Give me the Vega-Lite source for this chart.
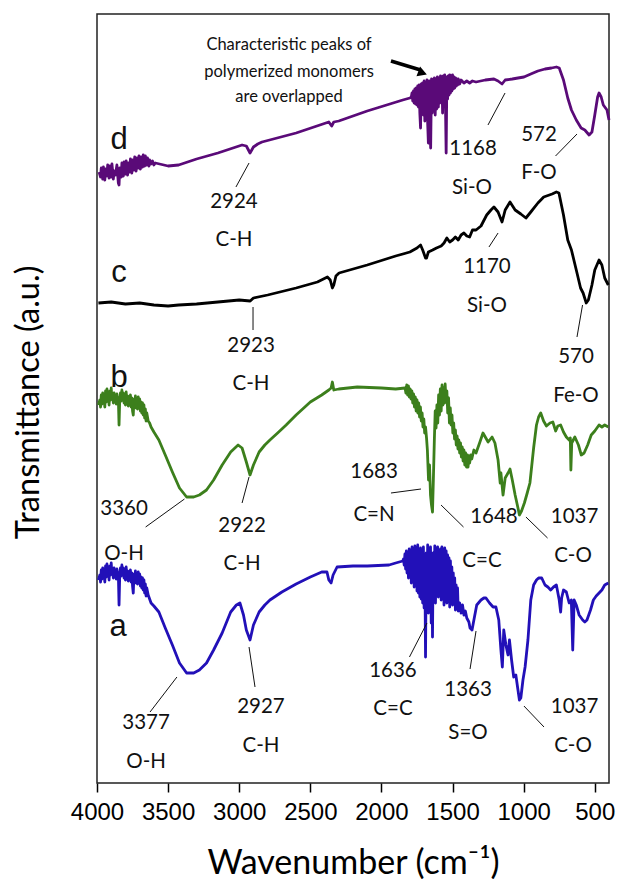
{
  "$schema": "https://vega.github.io/schema/vega-lite/v6.json",
  "width": 512,
  "height": 769,
  "autosize": "none",
  "padding": {"left": 97, "top": 14, "right": 10, "bottom": 96},
  "background": "white",
  "config": {
    "view": {"stroke": "#222222", "strokeWidth": 1.5},
    "font": "Lato"
  },
  "datasets": {
    "spectra": [
      {"s":"d","wn":3985,"t":611},{"s":"d","wn":3975,"t":606},{"s":"d","wn":3970,"t":615},{"s":"d","wn":3960,"t":604},{"s":"d","wn":3955,"t":616},{"s":"d","wn":3945,"t":603},{"s":"d","wn":3940,"t":614},{"s":"d","wn":3930,"t":607},{"s":"d","wn":3925,"t":618},{"s":"d","wn":3915,"t":605},{"s":"d","wn":3910,"t":617},{"s":"d","wn":3900,"t":606},{"s":"d","wn":3895,"t":619},{"s":"d","wn":3885,"t":604},{"s":"d","wn":3880,"t":612},{"s":"d","wn":3870,"t":608},{"s":"d","wn":3860,"t":618},{"s":"d","wn":3850,"t":600},{"s":"d","wn":3845,"t":598},{"s":"d","wn":3840,"t":615},{"s":"d","wn":3830,"t":606},{"s":"d","wn":3825,"t":620},{"s":"d","wn":3815,"t":607},{"s":"d","wn":3810,"t":621},{"s":"d","wn":3800,"t":609},{"s":"d","wn":3795,"t":622},{"s":"d","wn":3785,"t":608},{"s":"d","wn":3780,"t":620},{"s":"d","wn":3770,"t":611},{"s":"d","wn":3765,"t":624},{"s":"d","wn":3755,"t":610},{"s":"d","wn":3750,"t":623},{"s":"d","wn":3740,"t":613},{"s":"d","wn":3735,"t":626},{"s":"d","wn":3725,"t":612},{"s":"d","wn":3720,"t":625},{"s":"d","wn":3710,"t":615},{"s":"d","wn":3705,"t":627},{"s":"d","wn":3695,"t":614},{"s":"d","wn":3690,"t":626},{"s":"d","wn":3680,"t":616},{"s":"d","wn":3675,"t":628},{"s":"d","wn":3665,"t":617},{"s":"d","wn":3660,"t":627},{"s":"d","wn":3650,"t":618},{"s":"d","wn":3645,"t":625},{"s":"d","wn":3635,"t":617},{"s":"d","wn":3630,"t":623},{"s":"d","wn":3620,"t":619},{"s":"d","wn":3610,"t":622},{"s":"d","wn":3600,"t":618},{"s":"d","wn":3590,"t":620},{"s":"d","wn":3560,"t":619},{"s":"d","wn":3500,"t":617},{"s":"d","wn":3426,"t":618},{"s":"d","wn":3300,"t":624},{"s":"d","wn":3150,"t":630},{"s":"d","wn":2980,"t":638},{"s":"d","wn":2950,"t":637},{"s":"d","wn":2924,"t":630},{"s":"d","wn":2900,"t":636},{"s":"d","wn":2870,"t":639},{"s":"d","wn":2840,"t":641},{"s":"d","wn":2600,"t":650},{"s":"d","wn":2370,"t":661},{"s":"d","wn":2350,"t":657},{"s":"d","wn":2335,"t":661},{"s":"d","wn":2300,"t":662},{"s":"d","wn":2100,"t":672},{"s":"d","wn":1918,"t":680},{"s":"d","wn":1850,"t":683},{"s":"d","wn":1800,"t":685},
      {"s":"d","wn":1790,"t":686},{"s":"d","wn":1785,"t":690},{"s":"d","wn":1780,"t":682},{"s":"d","wn":1775,"t":692},{"s":"d","wn":1770,"t":680},{"s":"d","wn":1765,"t":694},{"s":"d","wn":1760,"t":679},{"s":"d","wn":1755,"t":695},{"s":"d","wn":1750,"t":678},{"s":"d","wn":1745,"t":697},{"s":"d","wn":1740,"t":676},{"s":"d","wn":1735,"t":698},{"s":"d","wn":1730,"t":670},{"s":"d","wn":1725,"t":655},{"s":"d","wn":1720,"t":699},{"s":"d","wn":1715,"t":672},{"s":"d","wn":1710,"t":700},{"s":"d","wn":1705,"t":668},{"s":"d","wn":1700,"t":702},{"s":"d","wn":1695,"t":662},{"s":"d","wn":1690,"t":700},{"s":"d","wn":1685,"t":666},{"s":"d","wn":1680,"t":703},{"s":"d","wn":1675,"t":660},{"s":"d","wn":1670,"t":640},{"s":"d","wn":1665,"t":702},{"s":"d","wn":1660,"t":665},{"s":"d","wn":1654,"t":635},{"s":"d","wn":1648,"t":704},{"s":"d","wn":1643,"t":670},{"s":"d","wn":1638,"t":703},{"s":"d","wn":1633,"t":672},{"s":"d","wn":1628,"t":705},{"s":"d","wn":1622,"t":668},{"s":"d","wn":1617,"t":704},{"s":"d","wn":1612,"t":674},{"s":"d","wn":1607,"t":706},{"s":"d","wn":1600,"t":676},{"s":"d","wn":1595,"t":705},{"s":"d","wn":1590,"t":680},{"s":"d","wn":1585,"t":707},{"s":"d","wn":1580,"t":683},{"s":"d","wn":1575,"t":706},{"s":"d","wn":1570,"t":670},{"s":"d","wn":1565,"t":707},{"s":"d","wn":1560,"t":686},{"s":"d","wn":1555,"t":708},{"s":"d","wn":1550,"t":680},{"s":"d","wn":1545,"t":630},{"s":"d","wn":1540,"t":706},{"s":"d","wn":1535,"t":684},{"s":"d","wn":1530,"t":707},{"s":"d","wn":1525,"t":688},{"s":"d","wn":1520,"t":708},{"s":"d","wn":1515,"t":690},{"s":"d","wn":1510,"t":707},{"s":"d","wn":1505,"t":692},{"s":"d","wn":1500,"t":708},{"s":"d","wn":1495,"t":694},{"s":"d","wn":1490,"t":706},{"s":"d","wn":1485,"t":695},{"s":"d","wn":1480,"t":705},{"s":"d","wn":1475,"t":697},{"s":"d","wn":1470,"t":704},{"s":"d","wn":1465,"t":698},{"s":"d","wn":1460,"t":704},{"s":"d","wn":1450,"t":699},{"s":"d","wn":1440,"t":703},{"s":"d","wn":1420,"t":700},{"s":"d","wn":1400,"t":702},{"s":"d","wn":1380,"t":700},{"s":"d","wn":1360,"t":702},{"s":"d","wn":1335,"t":701},
      {"s":"d","wn":1270,"t":703},{"s":"d","wn":1209,"t":704},{"s":"d","wn":1180,"t":702},{"s":"d","wn":1152,"t":699},{"s":"d","wn":1130,"t":703},{"s":"d","wn":1080,"t":704},{"s":"d","wn":1040,"t":705},{"s":"d","wn":998,"t":706},{"s":"d","wn":950,"t":709},{"s":"d","wn":900,"t":712},{"s":"d","wn":850,"t":714},{"s":"d","wn":804,"t":715},{"s":"d","wn":770,"t":716},{"s":"d","wn":750,"t":715},{"s":"d","wn":720,"t":703},{"s":"d","wn":690,"t":685},{"s":"d","wn":664,"t":673},{"s":"d","wn":630,"t":663},{"s":"d","wn":596,"t":655},{"s":"d","wn":570,"t":653},{"s":"d","wn":540,"t":648},{"s":"d","wn":520,"t":651},{"s":"d","wn":500,"t":668},{"s":"d","wn":480,"t":686},{"s":"d","wn":470,"t":690},{"s":"d","wn":455,"t":686},{"s":"d","wn":440,"t":678},{"s":"d","wn":414,"t":673},{"s":"d","wn":400,"t":663},

      {"s":"c","wn":3990,"t":480},{"s":"c","wn":3900,"t":481},{"s":"c","wn":3800,"t":479},{"s":"c","wn":3700,"t":480},{"s":"c","wn":3600,"t":478},{"s":"c","wn":3500,"t":477},{"s":"c","wn":3426,"t":478},{"s":"c","wn":3300,"t":479},{"s":"c","wn":3150,"t":481},{"s":"c","wn":3000,"t":483},{"s":"c","wn":2923,"t":482},{"s":"c","wn":2900,"t":485},{"s":"c","wn":2800,"t":488},{"s":"c","wn":2600,"t":495},{"s":"c","wn":2450,"t":501},{"s":"c","wn":2380,"t":506},{"s":"c","wn":2360,"t":503},{"s":"c","wn":2345,"t":495},{"s":"c","wn":2335,"t":498},{"s":"c","wn":2320,"t":507},{"s":"c","wn":2298,"t":510},{"s":"c","wn":2100,"t":518},{"s":"c","wn":1900,"t":527},{"s":"c","wn":1800,"t":531},{"s":"c","wn":1750,"t":535},{"s":"c","wn":1725,"t":538},{"s":"c","wn":1710,"t":533},{"s":"c","wn":1690,"t":525},{"s":"c","wn":1683,"t":525},{"s":"c","wn":1670,"t":531},{"s":"c","wn":1640,"t":533},{"s":"c","wn":1613,"t":535},{"s":"c","wn":1580,"t":537},{"s":"c","wn":1560,"t":540},{"s":"c","wn":1540,"t":545},{"s":"c","wn":1520,"t":541},{"s":"c","wn":1500,"t":543},{"s":"c","wn":1480,"t":546},{"s":"c","wn":1460,"t":543},{"s":"c","wn":1440,"t":548},{"s":"c","wn":1420,"t":550},{"s":"c","wn":1400,"t":547},{"s":"c","wn":1380,"t":546},{"s":"c","wn":1360,"t":553},{"s":"c","wn":1335,"t":553},{"s":"c","wn":1300,"t":557},{"s":"c","wn":1260,"t":568},{"s":"c","wn":1230,"t":573},{"s":"c","wn":1209,"t":576},{"s":"c","wn":1180,"t":571},{"s":"c","wn":1152,"t":561},{"s":"c","wn":1130,"t":573},{"s":"c","wn":1096,"t":581},{"s":"c","wn":1060,"t":573},{"s":"c","wn":1020,"t":569},{"s":"c","wn":984,"t":565},{"s":"c","wn":950,"t":571},{"s":"c","wn":900,"t":580},{"s":"c","wn":859,"t":586},{"s":"c","wn":800,"t":589},{"s":"c","wn":770,"t":591},{"s":"c","wn":752,"t":590},{"s":"c","wn":720,"t":568},{"s":"c","wn":690,"t":543},{"s":"c","wn":664,"t":533},{"s":"c","wn":630,"t":513},{"s":"c","wn":600,"t":495},{"s":"c","wn":582,"t":490},{"s":"c","wn":560,"t":480},{"s":"c","wn":545,"t":483},{"s":"c","wn":520,"t":498},{"s":"c","wn":500,"t":513},{"s":"c","wn":470,"t":523},{"s":"c","wn":450,"t":518},{"s":"c","wn":430,"t":505},{"s":"c","wn":405,"t":498},

      {"s":"b","wn":3990,"t":378},{"s":"b","wn":3980,"t":383},{"s":"b","wn":3975,"t":376},{"s":"b","wn":3970,"t":388},{"s":"b","wn":3965,"t":379},{"s":"b","wn":3960,"t":390},{"s":"b","wn":3955,"t":380},{"s":"b","wn":3950,"t":386},{"s":"b","wn":3945,"t":376},{"s":"b","wn":3940,"t":392},{"s":"b","wn":3935,"t":381},{"s":"b","wn":3930,"t":394},{"s":"b","wn":3925,"t":383},{"s":"b","wn":3920,"t":389},{"s":"b","wn":3915,"t":378},{"s":"b","wn":3910,"t":392},{"s":"b","wn":3905,"t":383},{"s":"b","wn":3900,"t":395},{"s":"b","wn":3895,"t":384},{"s":"b","wn":3890,"t":388},{"s":"b","wn":3885,"t":380},{"s":"b","wn":3880,"t":390},{"s":"b","wn":3875,"t":383},{"s":"b","wn":3870,"t":387},{"s":"b","wn":3865,"t":379},{"s":"b","wn":3860,"t":389},{"s":"b","wn":3855,"t":381},{"s":"b","wn":3850,"t":385},{"s":"b","wn":3845,"t":358},{"s":"b","wn":3840,"t":384},{"s":"b","wn":3835,"t":390},{"s":"b","wn":3830,"t":382},{"s":"b","wn":3825,"t":393},{"s":"b","wn":3820,"t":383},{"s":"b","wn":3815,"t":390},{"s":"b","wn":3810,"t":380},{"s":"b","wn":3805,"t":388},{"s":"b","wn":3800,"t":378},{"s":"b","wn":3795,"t":391},{"s":"b","wn":3790,"t":382},{"s":"b","wn":3785,"t":387},{"s":"b","wn":3780,"t":377},{"s":"b","wn":3775,"t":386},{"s":"b","wn":3770,"t":380},{"s":"b","wn":3765,"t":388},{"s":"b","wn":3760,"t":376},{"s":"b","wn":3755,"t":385},{"s":"b","wn":3750,"t":372},{"s":"b","wn":3745,"t":368},{"s":"b","wn":3740,"t":384},{"s":"b","wn":3735,"t":377},{"s":"b","wn":3730,"t":387},{"s":"b","wn":3725,"t":375},{"s":"b","wn":3720,"t":383},{"s":"b","wn":3715,"t":374},{"s":"b","wn":3710,"t":386},{"s":"b","wn":3705,"t":376},{"s":"b","wn":3700,"t":384},{"s":"b","wn":3695,"t":372},{"s":"b","wn":3690,"t":381},{"s":"b","wn":3685,"t":370},{"s":"b","wn":3680,"t":380},{"s":"b","wn":3675,"t":368},{"s":"b","wn":3670,"t":378},{"s":"b","wn":3665,"t":365},{"s":"b","wn":3660,"t":374},{"s":"b","wn":3655,"t":362},{"s":"b","wn":3650,"t":370},{"s":"b","wn":3640,"t":362},{"s":"b","wn":3630,"t":360},{"s":"b","wn":3620,"t":356},{"s":"b","wn":3600,"t":351},{"s":"b","wn":3565,"t":343},{"s":"b","wn":3520,"t":328},{"s":"b","wn":3470,"t":311},{"s":"b","wn":3420,"t":295},{"s":"b","wn":3370,"t":286},{"s":"b","wn":3320,"t":286},{"s":"b","wn":3280,"t":288},{"s":"b","wn":3230,"t":293},{"s":"b","wn":3180,"t":303},{"s":"b","wn":3120,"t":318},{"s":"b","wn":3060,"t":331},{"s":"b","wn":3008,"t":338},{"s":"b","wn":2980,"t":335},{"s":"b","wn":2950,"t":321},{"s":"b","wn":2924,"t":308},{"s":"b","wn":2900,"t":318},{"s":"b","wn":2860,"t":331},{"s":"b","wn":2820,"t":338},{"s":"b","wn":2784,"t":343},{"s":"b","wn":2730,"t":350},{"s":"b","wn":2670,"t":358},{"s":"b","wn":2600,"t":368},{"s":"b","wn":2500,"t":381},{"s":"b","wn":2420,"t":388},{"s":"b","wn":2370,"t":393},{"s":"b","wn":2354,"t":395},{"s":"b","wn":2345,"t":401},{"s":"b","wn":2335,"t":393},{"s":"b","wn":2300,"t":394},{"s":"b","wn":2170,"t":396},{"s":"b","wn":2000,"t":395},{"s":"b","wn":1900,"t":394},
      {"s":"b","wn":1834,"t":395},{"s":"b","wn":1828,"t":390},{"s":"b","wn":1822,"t":398},{"s":"b","wn":1816,"t":388},{"s":"b","wn":1810,"t":397},{"s":"b","wn":1804,"t":386},{"s":"b","wn":1798,"t":394},{"s":"b","wn":1792,"t":384},{"s":"b","wn":1786,"t":392},{"s":"b","wn":1780,"t":380},{"s":"b","wn":1774,"t":389},{"s":"b","wn":1768,"t":376},{"s":"b","wn":1762,"t":386},{"s":"b","wn":1756,"t":372},{"s":"b","wn":1750,"t":383},{"s":"b","wn":1744,"t":370},{"s":"b","wn":1738,"t":380},{"s":"b","wn":1732,"t":366},{"s":"b","wn":1726,"t":376},{"s":"b","wn":1720,"t":362},{"s":"b","wn":1714,"t":370},{"s":"b","wn":1708,"t":356},{"s":"b","wn":1702,"t":364},{"s":"b","wn":1696,"t":350},{"s":"b","wn":1690,"t":356},{"s":"b","wn":1683,"t":345},{"s":"b","wn":1677,"t":333},{"s":"b","wn":1669,"t":303},{"s":"b","wn":1662,"t":318},{"s":"b","wn":1655,"t":288},{"s":"b","wn":1648,"t":278},{"s":"b","wn":1641,"t":271},{"s":"b","wn":1635,"t":303},{"s":"b","wn":1628,"t":343},{"s":"b","wn":1622,"t":372},{"s":"b","wn":1616,"t":355},{"s":"b","wn":1610,"t":378},{"s":"b","wn":1604,"t":360},{"s":"b","wn":1598,"t":388},{"s":"b","wn":1592,"t":368},{"s":"b","wn":1586,"t":394},{"s":"b","wn":1580,"t":372},{"s":"b","wn":1574,"t":398},{"s":"b","wn":1568,"t":378},{"s":"b","wn":1562,"t":395},{"s":"b","wn":1556,"t":380},{"s":"b","wn":1552,"t":399},{"s":"b","wn":1546,"t":382},{"s":"b","wn":1540,"t":392},{"s":"b","wn":1534,"t":370},{"s":"b","wn":1528,"t":385},{"s":"b","wn":1522,"t":360},{"s":"b","wn":1516,"t":375},{"s":"b","wn":1510,"t":358},{"s":"b","wn":1504,"t":368},{"s":"b","wn":1498,"t":350},{"s":"b","wn":1492,"t":360},{"s":"b","wn":1486,"t":344},{"s":"b","wn":1480,"t":353},{"s":"b","wn":1474,"t":338},{"s":"b","wn":1468,"t":347},{"s":"b","wn":1462,"t":334},{"s":"b","wn":1456,"t":343},{"s":"b","wn":1450,"t":330},{"s":"b","wn":1444,"t":340},{"s":"b","wn":1438,"t":326},{"s":"b","wn":1432,"t":336},{"s":"b","wn":1426,"t":322},{"s":"b","wn":1420,"t":333},{"s":"b","wn":1414,"t":318},{"s":"b","wn":1408,"t":330},{"s":"b","wn":1402,"t":316},{"s":"b","wn":1396,"t":328},{"s":"b","wn":1391,"t":316},{"s":"b","wn":1385,"t":327},{"s":"b","wn":1380,"t":320},{"s":"b","wn":1372,"t":328},{"s":"b","wn":1365,"t":324},{"s":"b","wn":1350,"t":333},{"s":"b","wn":1335,"t":330},{"s":"b","wn":1310,"t":340},{"s":"b","wn":1286,"t":350},{"s":"b","wn":1270,"t":346},{"s":"b","wn":1250,"t":341},{"s":"b","wn":1222,"t":346},{"s":"b","wn":1202,"t":340},{"s":"b","wn":1180,"t":323},{"s":"b","wn":1165,"t":300},{"s":"b","wn":1160,"t":310},{"s":"b","wn":1145,"t":288},{"s":"b","wn":1130,"t":305},{"s":"b","wn":1110,"t":310},{"s":"b","wn":1096,"t":314},{"s":"b","wn":1080,"t":303},{"s":"b","wn":1060,"t":288},{"s":"b","wn":1040,"t":275},{"s":"b","wn":1030,"t":268},{"s":"b","wn":1015,"t":272},{"s":"b","wn":995,"t":280},{"s":"b","wn":975,"t":290},{"s":"b","wn":956,"t":300},{"s":"b","wn":930,"t":335},{"s":"b","wn":910,"t":358},{"s":"b","wn":895,"t":366},{"s":"b","wn":880,"t":370},{"s":"b","wn":860,"t":362},{"s":"b","wn":840,"t":357},{"s":"b","wn":815,"t":360},{"s":"b","wn":795,"t":361},{"s":"b","wn":775,"t":352},{"s":"b","wn":760,"t":357},{"s":"b","wn":740,"t":358},{"s":"b","wn":720,"t":351},{"s":"b","wn":700,"t":346},{"s":"b","wn":680,"t":343},{"s":"b","wn":672,"t":345},{"s":"b","wn":668,"t":313},{"s":"b","wn":662,"t":340},{"s":"b","wn":640,"t":346},{"s":"b","wn":615,"t":338},{"s":"b","wn":595,"t":328},{"s":"b","wn":575,"t":330},{"s":"b","wn":550,"t":338},{"s":"b","wn":525,"t":348},{"s":"b","wn":500,"t":352},{"s":"b","wn":470,"t":358},{"s":"b","wn":450,"t":356},{"s":"b","wn":430,"t":358},{"s":"b","wn":405,"t":356},

      {"s":"a","wn":3990,"t":203},{"s":"a","wn":3980,"t":208},{"s":"a","wn":3975,"t":201},{"s":"a","wn":3970,"t":213},{"s":"a","wn":3965,"t":204},{"s":"a","wn":3960,"t":215},{"s":"a","wn":3955,"t":205},{"s":"a","wn":3950,"t":211},{"s":"a","wn":3945,"t":201},{"s":"a","wn":3940,"t":217},{"s":"a","wn":3935,"t":206},{"s":"a","wn":3930,"t":219},{"s":"a","wn":3925,"t":208},{"s":"a","wn":3920,"t":214},{"s":"a","wn":3915,"t":203},{"s":"a","wn":3910,"t":217},{"s":"a","wn":3905,"t":208},{"s":"a","wn":3900,"t":220},{"s":"a","wn":3895,"t":209},{"s":"a","wn":3890,"t":213},{"s":"a","wn":3885,"t":205},{"s":"a","wn":3880,"t":215},{"s":"a","wn":3875,"t":208},{"s":"a","wn":3870,"t":212},{"s":"a","wn":3865,"t":204},{"s":"a","wn":3860,"t":214},{"s":"a","wn":3855,"t":206},{"s":"a","wn":3850,"t":210},{"s":"a","wn":3845,"t":178},{"s":"a","wn":3840,"t":209},{"s":"a","wn":3835,"t":215},{"s":"a","wn":3830,"t":207},{"s":"a","wn":3825,"t":218},{"s":"a","wn":3820,"t":208},{"s":"a","wn":3815,"t":215},{"s":"a","wn":3810,"t":205},{"s":"a","wn":3805,"t":213},{"s":"a","wn":3800,"t":203},{"s":"a","wn":3795,"t":216},{"s":"a","wn":3790,"t":207},{"s":"a","wn":3785,"t":212},{"s":"a","wn":3780,"t":202},{"s":"a","wn":3775,"t":211},{"s":"a","wn":3770,"t":205},{"s":"a","wn":3765,"t":213},{"s":"a","wn":3760,"t":201},{"s":"a","wn":3755,"t":210},{"s":"a","wn":3750,"t":197},{"s":"a","wn":3745,"t":190},{"s":"a","wn":3740,"t":209},{"s":"a","wn":3735,"t":202},{"s":"a","wn":3730,"t":212},{"s":"a","wn":3725,"t":200},{"s":"a","wn":3720,"t":208},{"s":"a","wn":3715,"t":199},{"s":"a","wn":3710,"t":211},{"s":"a","wn":3705,"t":201},{"s":"a","wn":3700,"t":209},{"s":"a","wn":3695,"t":197},{"s":"a","wn":3690,"t":206},{"s":"a","wn":3685,"t":195},{"s":"a","wn":3680,"t":205},{"s":"a","wn":3675,"t":193},{"s":"a","wn":3670,"t":203},{"s":"a","wn":3665,"t":190},{"s":"a","wn":3660,"t":199},{"s":"a","wn":3655,"t":187},{"s":"a","wn":3650,"t":195},{"s":"a","wn":3640,"t":188},{"s":"a","wn":3630,"t":184},{"s":"a","wn":3620,"t":180},{"s":"a","wn":3600,"t":177},{"s":"a","wn":3565,"t":171},{"s":"a","wn":3520,"t":155},{"s":"a","wn":3470,"t":138},{"s":"a","wn":3420,"t":120},{"s":"a","wn":3370,"t":110},{"s":"a","wn":3320,"t":110},{"s":"a","wn":3280,"t":113},{"s":"a","wn":3230,"t":120},{"s":"a","wn":3180,"t":133},{"s":"a","wn":3120,"t":150},{"s":"a","wn":3060,"t":171},{"s":"a","wn":3020,"t":178},{"s":"a","wn":2995,"t":180},{"s":"a","wn":2970,"t":168},{"s":"a","wn":2950,"t":153},{"s":"a","wn":2924,"t":143},{"s":"a","wn":2900,"t":158},{"s":"a","wn":2860,"t":171},{"s":"a","wn":2820,"t":178},{"s":"a","wn":2784,"t":183},{"s":"a","wn":2700,"t":191},{"s":"a","wn":2600,"t":199},{"s":"a","wn":2500,"t":206},{"s":"a","wn":2420,"t":211},{"s":"a","wn":2383,"t":211},{"s":"a","wn":2370,"t":203},{"s":"a","wn":2354,"t":200},{"s":"a","wn":2340,"t":208},{"s":"a","wn":2312,"t":216},{"s":"a","wn":2200,"t":217},{"s":"a","wn":2100,"t":217},{"s":"a","wn":1947,"t":218},{"s":"a","wn":1900,"t":220},{"s":"a","wn":1850,"t":222},
      {"s":"a","wn":1845,"t":224},{"s":"a","wn":1840,"t":218},{"s":"a","wn":1835,"t":229},{"s":"a","wn":1830,"t":214},{"s":"a","wn":1825,"t":232},{"s":"a","wn":1820,"t":210},{"s":"a","wn":1815,"t":230},{"s":"a","wn":1810,"t":205},{"s":"a","wn":1805,"t":234},{"s":"a","wn":1800,"t":208},{"s":"a","wn":1795,"t":228},{"s":"a","wn":1790,"t":200},{"s":"a","wn":1785,"t":236},{"s":"a","wn":1780,"t":203},{"s":"a","wn":1775,"t":231},{"s":"a","wn":1770,"t":196},{"s":"a","wn":1765,"t":237},{"s":"a","wn":1760,"t":199},{"s":"a","wn":1755,"t":230},{"s":"a","wn":1750,"t":192},{"s":"a","wn":1745,"t":238},{"s":"a","wn":1740,"t":190},{"s":"a","wn":1735,"t":233},{"s":"a","wn":1730,"t":186},{"s":"a","wn":1725,"t":235},{"s":"a","wn":1720,"t":184},{"s":"a","wn":1715,"t":229},{"s":"a","wn":1710,"t":180},{"s":"a","wn":1705,"t":236},{"s":"a","wn":1700,"t":175},{"s":"a","wn":1695,"t":226},{"s":"a","wn":1690,"t":126},{"s":"a","wn":1685,"t":230},{"s":"a","wn":1680,"t":182},{"s":"a","wn":1675,"t":238},{"s":"a","wn":1670,"t":170},{"s":"a","wn":1665,"t":232},{"s":"a","wn":1660,"t":178},{"s":"a","wn":1655,"t":236},{"s":"a","wn":1650,"t":160},{"s":"a","wn":1645,"t":225},{"s":"a","wn":1641,"t":146},{"s":"a","wn":1636,"t":230},{"s":"a","wn":1630,"t":185},{"s":"a","wn":1625,"t":237},{"s":"a","wn":1620,"t":180},{"s":"a","wn":1615,"t":232},{"s":"a","wn":1610,"t":190},{"s":"a","wn":1605,"t":236},{"s":"a","wn":1600,"t":186},{"s":"a","wn":1595,"t":230},{"s":"a","wn":1590,"t":192},{"s":"a","wn":1585,"t":234},{"s":"a","wn":1580,"t":183},{"s":"a","wn":1575,"t":236},{"s":"a","wn":1570,"t":190},{"s":"a","wn":1565,"t":230},{"s":"a","wn":1560,"t":178},{"s":"a","wn":1555,"t":235},{"s":"a","wn":1550,"t":186},{"s":"a","wn":1545,"t":232},{"s":"a","wn":1540,"t":180},{"s":"a","wn":1535,"t":228},{"s":"a","wn":1530,"t":188},{"s":"a","wn":1525,"t":225},{"s":"a","wn":1520,"t":176},{"s":"a","wn":1515,"t":222},{"s":"a","wn":1510,"t":185},{"s":"a","wn":1505,"t":216},{"s":"a","wn":1500,"t":178},{"s":"a","wn":1495,"t":210},{"s":"a","wn":1490,"t":182},{"s":"a","wn":1485,"t":205},{"s":"a","wn":1480,"t":173},{"s":"a","wn":1475,"t":198},{"s":"a","wn":1470,"t":178},{"s":"a","wn":1465,"t":195},{"s":"a","wn":1460,"t":172},{"s":"a","wn":1450,"t":180},{"s":"a","wn":1440,"t":170},{"s":"a","wn":1430,"t":178},{"s":"a","wn":1420,"t":168},{"s":"a","wn":1410,"t":172},{"s":"a","wn":1400,"t":165},{"s":"a","wn":1385,"t":161},{"s":"a","wn":1377,"t":155},{"s":"a","wn":1363,"t":153},{"s":"a","wn":1350,"t":163},{"s":"a","wn":1330,"t":178},{"s":"a","wn":1300,"t":183},{"s":"a","wn":1280,"t":185},{"s":"a","wn":1265,"t":185},{"s":"a","wn":1240,"t":180},{"s":"a","wn":1215,"t":176},{"s":"a","wn":1195,"t":176},{"s":"a","wn":1175,"t":163},{"s":"a","wn":1160,"t":133},{"s":"a","wn":1150,"t":116},{"s":"a","wn":1140,"t":153},{"s":"a","wn":1125,"t":138},{"s":"a","wn":1110,"t":128},{"s":"a","wn":1100,"t":143},{"s":"a","wn":1085,"t":123},{"s":"a","wn":1070,"t":106},{"s":"a","wn":1055,"t":108},{"s":"a","wn":1040,"t":93},{"s":"a","wn":1030,"t":83},{"s":"a","wn":1020,"t":85},{"s":"a","wn":1005,"t":103},{"s":"a","wn":990,"t":116},{"s":"a","wn":970,"t":143},{"s":"a","wn":950,"t":183},{"s":"a","wn":930,"t":198},{"s":"a","wn":910,"t":203},{"s":"a","wn":895,"t":205},{"s":"a","wn":873,"t":205},{"s":"a","wn":850,"t":198},{"s":"a","wn":830,"t":196},{"s":"a","wn":810,"t":193},{"s":"a","wn":790,"t":196},{"s":"a","wn":770,"t":198},{"s":"a","wn":750,"t":183},{"s":"a","wn":740,"t":171},{"s":"a","wn":733,"t":185},{"s":"a","wn":720,"t":193},{"s":"a","wn":700,"t":191},{"s":"a","wn":680,"t":180},{"s":"a","wn":665,"t":183},{"s":"a","wn":655,"t":133},{"s":"a","wn":645,"t":183},{"s":"a","wn":630,"t":178},{"s":"a","wn":610,"t":168},{"s":"a","wn":585,"t":163},{"s":"a","wn":570,"t":161},{"s":"a","wn":555,"t":163},{"s":"a","wn":530,"t":173},{"s":"a","wn":510,"t":183},{"s":"a","wn":490,"t":187},{"s":"a","wn":470,"t":190},{"s":"a","wn":450,"t":193},{"s":"a","wn":430,"t":198},{"s":"a","wn":405,"t":200}
    ],
    "notes": [
      {"wn":2650,"t":738,"label":"Characteristic peaks of"},
      {"wn":2650,"t":711,"label":"polymerized monomers"},
      {"wn":2650,"t":686,"label":"are overlapped"}
    ],
    "letters": [
      {"wn":3845,"t":643,"label":"d"},
      {"wn":3845,"t":510,"label":"c"},
      {"wn":3845,"t":405,"label":"b"},
      {"wn":3852,"t":156,"label":"a"}
    ],
    "peaks": [
      {"wn":3037,"t":581,"label":"2924"},{"wn":3037,"t":543,"label":"C-H"},
      {"wn":1356,"t":634,"label":"1168"},{"wn":1363,"t":595,"label":"Si-O"},
      {"wn":892,"t":648,"label":"572"},{"wn":892,"t":610,"label":"F-O"},
      {"wn":1258,"t":516,"label":"1170"},{"wn":1258,"t":477,"label":"Si-O"},
      {"wn":2917,"t":437,"label":"2923"},{"wn":2917,"t":399,"label":"C-H"},
      {"wn":632,"t":426,"label":"570"},{"wn":632,"t":387,"label":"Fe-O"},
      {"wn":3810,"t":274,"label":"3360"},{"wn":3810,"t":229,"label":"O-H"},
      {"wn":2980,"t":257,"label":"2922"},{"wn":2980,"t":219,"label":"C-H"},
      {"wn":2052,"t":311,"label":"1683"},{"wn":2052,"t":268,"label":"C=N"},
      {"wn":1209,"t":266,"label":"1648"},{"wn":1293,"t":222,"label":"C=C"},
      {"wn":642,"t":266,"label":"1037"},{"wn":653,"t":227,"label":"C-O"},
      {"wn":3655,"t":60,"label":"3377"},{"wn":3655,"t":21,"label":"O-H"},
      {"wn":2847,"t":76,"label":"2927"},{"wn":2847,"t":37,"label":"C-H"},
      {"wn":1919,"t":112,"label":"1636"},{"wn":1919,"t":74,"label":"C=C"},
      {"wn":1391,"t":93,"label":"1363"},{"wn":1391,"t":50,"label":"S=O"},
      {"wn":642,"t":76,"label":"1037"},{"wn":653,"t":37,"label":"C-O"}
    ],
    "leaders": [
      {"wn1":2931,"t1":620,"wn2":3023,"t2":596},
      {"wn1":1131,"t1":690,"wn2":1251,"t2":658},
      {"wn1":625,"t1":649,"wn2":776,"t2":627},
      {"wn1":1180,"t1":550,"wn2":1244,"t2":536},
      {"wn1":2903,"t1":476,"wn2":2903,"t2":453},
      {"wn1":586,"t1":478,"wn2":625,"t2":446},
      {"wn1":3385,"t1":284,"wn2":3658,"t2":256},
      {"wn1":2931,"t1":306,"wn2":2980,"t2":280},
      {"wn1":1933,"t1":290,"wn2":1722,"t2":294},
      {"wn1":1581,"t1":278,"wn2":1423,"t2":256},
      {"wn1":984,"t1":266,"wn2":832,"t2":245},
      {"wn1":3438,"t1":106,"wn2":3627,"t2":71},
      {"wn1":2931,"t1":136,"wn2":2889,"t2":96},
      {"wn1":1680,"t1":160,"wn2":1803,"t2":126},
      {"wn1":1335,"t1":152,"wn2":1377,"t2":114},
      {"wn1":998,"t1":77,"wn2":857,"t2":56}
    ],
    "arrow": [
      {"wn1":1933,"t1":722,"wn2":1725,"t2":713}
    ],
    "arrowhead": [
      {"wn":1711,"t":710}
    ]
  },
  "layer": [
    {
      "data": {"name": "spectra"},
      "mark": {"type": "line", "strokeWidth": 2.8, "strokeJoin": "round"},
      "encoding": {
        "x": {
          "field": "wn", "type": "quantitative",
          "scale": {"domain": [4000, 400], "nice": false, "zero": false},
          "axis": {
            "values": [4000, 3500, 3000, 2500, 2000, 1500, 1000, 500],
            "format": "d",
            "grid": false, "domain": false,
            "tickSize": 9, "tickColor": "#000000", "tickWidth": 1.5,
            "labelFont": "Liberation Sans", "labelFontSize": 24, "labelColor": "#000000",
            "labelPadding": 8, "labelOverlap": false, "labelFlush": false,
            "title": "Wavenumber (cm⁻¹)",
            "titleFont": "Lato", "titleFontSize": 34, "titleFontWeight": "normal", "titleColor": "#000000",
            "titleBaseline": "middle", "titleY": 80
          }
        },
        "y": {
          "field": "t", "type": "quantitative",
          "scale": {"domain": [0, 769], "nice": false, "zero": false},
          "axis": {
            "labels": false, "ticks": false, "domain": false, "grid": false,
            "title": "Transmittance (a.u.)",
            "titleFont": "Lato", "titleFontSize": 32.5, "titleFontWeight": "normal", "titleColor": "#000000",
            "titleBaseline": "middle", "titleAlign": "center", "titleAngle": -90,
            "titleX": -69, "titleY": 388
          }
        },
        "color": {
          "field": "s", "type": "nominal",
          "scale": {"domain": ["a", "b", "c", "d"], "range": ["#2210b8", "#3c7f1c", "#000000", "#5a0a78"]},
          "legend": null
        },
        "detail": {"field": "s"}
      }
    },
    {
      "data": {"name": "leaders"},
      "mark": {"type": "rule", "color": "#111111", "strokeWidth": 1},
      "encoding": {
        "x": {"field": "wn1", "type": "quantitative"},
        "y": {"field": "t1", "type": "quantitative"},
        "x2": {"field": "wn2"},
        "y2": {"field": "t2"}
      }
    },
    {
      "data": {"name": "arrow"},
      "mark": {"type": "rule", "color": "#000000", "strokeWidth": 3.5},
      "encoding": {
        "x": {"field": "wn1", "type": "quantitative"},
        "y": {"field": "t1", "type": "quantitative"},
        "x2": {"field": "wn2"},
        "y2": {"field": "t2"}
      }
    },
    {
      "data": {"name": "arrowhead"},
      "mark": {"type": "point", "shape": "triangle-right", "filled": true, "color": "#000000", "opacity": 1, "size": 110, "angle": 20},
      "encoding": {
        "x": {"field": "wn", "type": "quantitative"},
        "y": {"field": "t", "type": "quantitative"}
      }
    },
    {
      "data": {"name": "notes"},
      "mark": {"type": "text", "font": "Lato", "fontSize": 16.5, "color": "#111111", "align": "center", "baseline": "middle"},
      "encoding": {
        "x": {"field": "wn", "type": "quantitative"},
        "y": {"field": "t", "type": "quantitative"},
        "text": {"field": "label"}
      }
    },
    {
      "data": {"name": "peaks"},
      "mark": {"type": "text", "font": "Lato", "fontSize": 20.5, "color": "#111111", "align": "center", "baseline": "middle"},
      "encoding": {
        "x": {"field": "wn", "type": "quantitative"},
        "y": {"field": "t", "type": "quantitative"},
        "text": {"field": "label"}
      }
    },
    {
      "data": {"name": "letters"},
      "mark": {"type": "text", "font": "Liberation Sans", "fontSize": 31, "color": "#111111", "align": "center", "baseline": "middle"},
      "encoding": {
        "x": {"field": "wn", "type": "quantitative"},
        "y": {"field": "t", "type": "quantitative"},
        "text": {"field": "label"}
      }
    }
  ]
}
